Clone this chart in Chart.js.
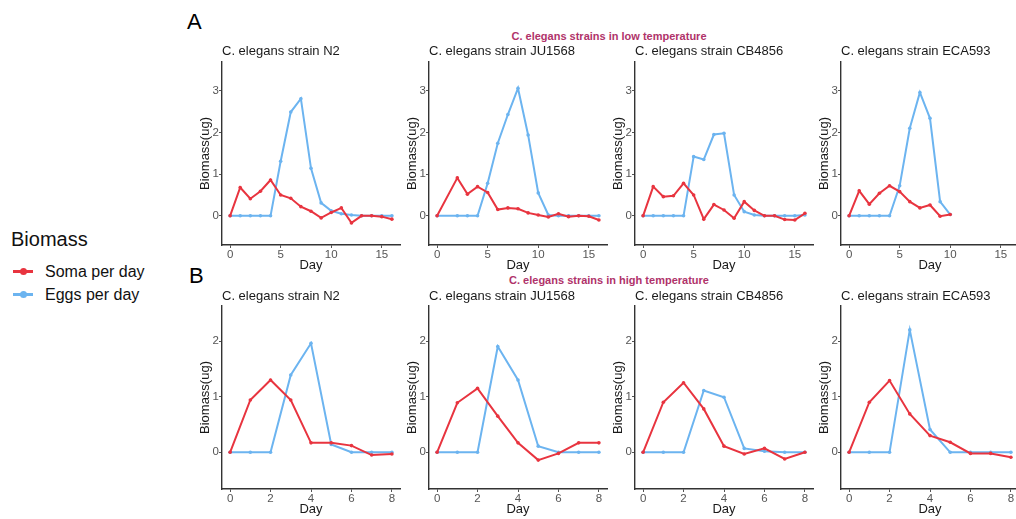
<!DOCTYPE html>
<html lang="en">
<head>
  <meta charset="UTF-8">
  <script src="https://cdn.jsdelivr.net/npm/chart.js"></script>
  <title>C. elegans biomass</title>
  <style>
    body { margin: 0; width: 1016px; height: 519px; background: #fff; overflow: hidden; position: relative;
           font-family: 'Liberation Sans', Arial, sans-serif; }
    canvas { position: absolute; }
    .txt { position: absolute; white-space: nowrap; line-height: 1; }
    .tag { font-size: 22px; color: #000; }
    .group { font-size: 11px; font-weight: bold; color: #b0336a; transform: translateX(-50%); }
    .key { position: absolute; left: 13px; width: 20px; height: 3px; }
    .key span { position: absolute; left: 7px; top: -2px; width: 7px; height: 7px; border-radius: 50%; }
  </style>
</head>
<body>
  <div class="txt tag" style="left:187px; top:11px;">A</div>
  <div class="txt tag" style="left:189px; top:265px;">B</div>
  <div class="txt group" style="left:609px; top:31px;">C. elegans strains in low temperature</div>
  <div class="txt group" style="left:609px; top:275px;">C. elegans strains in high temperature</div>

  <div class="txt" style="left:11px; top:229px; font-size:20px; color:#111;">Biomass</div>
  <div class="key" style="top:270px; background:#e8343f;"><span style="background:#e8343f;"></span></div>
  <div class="txt" style="left:45px; top:264px; font-size:16px; color:#111;">Soma per day</div>
  <div class="key" style="top:293px; background:#6cb4f0;"><span style="background:#6cb4f0;"></span></div>
  <div class="txt" style="left:45px; top:287px; font-size:16px; color:#111;">Eggs per day</div>

  <script>
  // days
  var lowDays = [0, 1, 2, 3, 4, 5, 6, 7, 8, 9, 10, 11, 12, 13, 14, 15, 16];
  var highDays = [0, 1, 2, 3, 4, 5, 6, 7, 8];
  var lowTicks = [0, 5, 10, 15];
  var highTicks = [0, 2, 4, 6, 8];
  var lowYTicks = [0, 1, 2, 3];
  var highYTicks = [0, 1, 2];

  // low temperature (biomass, ug)
  var n2LowSoma = [0, 0.68, 0.41, 0.59, 0.86, 0.50, 0.42, 0.22, 0.11, -0.05, 0.08, 0.19, -0.17, 0, 0, -0.02, -0.08];
  var n2LowEggs = [0, 0, 0, 0, 0, 1.31, 2.49, 2.81, 1.14, 0.31, 0.12, 0.05, 0.02, 0, 0, 0, 0];
  var ju1568LowSoma = [0, null, 0.91, 0.52, 0.70, 0.56, 0.15, 0.19, 0.17, 0.07, 0.02, -0.03, 0.05, -0.02, 0, -0.01, -0.10];
  var ju1568LowEggs = [0, null, 0, 0, 0, 0.78, 1.74, 2.43, 3.06, 1.94, 0.55, 0.02, 0, 0, 0, 0, 0];
  var cb4856LowSoma = [0, 0.70, 0.46, 0.48, 0.78, 0.50, -0.08, 0.27, 0.14, -0.06, 0.34, 0.13, 0, 0, -0.09, -0.10, 0.06];
  var cb4856LowEggs = [0, 0, 0, 0, 0, 1.42, 1.35, 1.95, 1.98, 0.50, 0.10, 0.02, 0, 0, 0, 0, 0.02];
  var eca593LowSoma = [0, 0.60, 0.28, 0.54, 0.72, 0.58, 0.34, 0.19, 0.26, -0.01, 0.03];
  var eca593LowEggs = [0, 0, 0, 0, 0, 0.72, 2.10, 2.96, 2.34, 0.34, 0.03];

  // high temperature
  var n2HighSoma = [0, 0.94, 1.30, 0.94, 0.17, 0.17, 0.12, -0.05, -0.03];
  var n2HighEggs = [0, 0, 0, 1.39, 1.96, 0.14, 0, 0, 0];
  var ju1568HighSoma = [0, 0.89, 1.15, 0.65, 0.17, -0.14, -0.02, 0.17, 0.17];
  var ju1568HighEggs = [0, 0, 0, 1.90, 1.30, 0.11, 0, 0, 0];
  var cb4856HighSoma = [0, 0.90, 1.25, 0.78, 0.11, -0.03, 0.07, -0.12, 0];
  var cb4856HighEggs = [0, 0, 0, 1.11, 0.99, 0.07, 0.02, 0, 0];
  var eca593HighSoma = [0, 0.90, 1.29, 0.69, 0.30, 0.18, -0.02, -0.02, -0.09];
  var eca593HighEggs = [0, 0, 0, 2.20, 0.41, 0, 0, 0, 0];

  var strains = ['N2', 'JU1568', 'CB4856', 'ECA593'];
  var somaColor = '#e8343f';
  var eggsColor = '#6cb4f0';

  Chart.defaults.font.family = "'Liberation Sans', Arial, sans-serif";

  var rows = [
    { days: lowDays, xTicks: lowTicks, yTicks: lowYTicks, xMin: -0.8, xMax: 16.8, yMin: -0.7, yMax: 3.69,
      top: 44, plotTop: 62, plotBottom: 245,
      soma: [n2LowSoma, ju1568LowSoma, cb4856LowSoma, eca593LowSoma],
      eggs: [n2LowEggs, ju1568LowEggs, cb4856LowEggs, eca593LowEggs] },
    { days: highDays, xTicks: highTicks, yTicks: highYTicks, xMin: -0.4, xMax: 8.4, yMin: -0.66, yMax: 2.63,
      top: 289, plotTop: 306, plotBottom: 489,
      soma: [n2HighSoma, ju1568HighSoma, cb4856HighSoma, eca593HighSoma],
      eggs: [n2HighEggs, ju1568HighEggs, cb4856HighEggs, eca593HighEggs] }
  ];
  var axisX = [222, 429, 635, 841];
  var yAxisW = 24, xAxisH = 28, plotW = 178, padR = 4;

  function toPoints(days, values) {
    return values.map(function (v, i) { return { x: days[i], y: v }; });
  }

  rows.forEach(function (row) {
    strains.forEach(function (strain, i) {
      var canvas = document.createElement('canvas');
      canvas.width = yAxisW + plotW + padR;
      canvas.height = row.plotBottom + xAxisH - row.top;
      canvas.style.left = (axisX[i] - yAxisW) + 'px';
      canvas.style.top = row.top + 'px';
      document.body.appendChild(canvas);

      var lineSet = function (label, values, color) {
        return {
          label: label,
          data: toPoints(row.days, values),
          borderColor: color,
          backgroundColor: color,
          borderWidth: 2,
          pointRadius: 1.8,
          pointBorderWidth: 0,
          spanGaps: true,
          tension: 0
        };
      };

      var axisStyle = {
        grid: { display: true, drawOnChartArea: false, drawTicks: true, tickLength: 3, color: '#555', lineWidth: 1 },
        border: { display: true, color: '#333', width: 1.4 }
      };

      new Chart(canvas.getContext('2d'), {
        type: 'line',
        data: {
          datasets: [
            lineSet('Soma per day', row.soma[i], somaColor),
            lineSet('Eggs per day', row.eggs[i], eggsColor)
          ]
        },
        options: {
          responsive: false,
          animation: false,
          layout: { padding: { left: 0, right: padR, top: 0, bottom: 0 } },
          plugins: {
            legend: { display: false },
            tooltip: { enabled: false },
            title: {
              display: true,
              text: 'C. elegans strain ' + strain,
              align: 'start',
              fullSize: false,
              color: '#1a1a1a',
              font: { size: 13, weight: 'normal' },
              padding: { top: 0, bottom: row.plotTop - row.top - 15.6 }
            }
          },
          scales: {
            x: Object.assign({
              type: 'linear',
              min: row.xMin,
              max: row.xMax,
              afterBuildTicks: function (s) { s.ticks = row.xTicks.map(function (v) { return { value: v }; }); },
              afterFit: function (s) { s.height = xAxisH; },
              ticks: { color: '#555', font: { size: 11.5 }, padding: 0, maxRotation: 0 },
              title: { display: true, text: 'Day', color: '#1a1a1a', font: { size: 13 }, padding: 0 }
            }, axisStyle),
            y: Object.assign({
              min: row.yMin,
              max: row.yMax,
              afterBuildTicks: function (s) { s.ticks = row.yTicks.map(function (v) { return { value: v }; }); },
              afterFit: function (s) { s.width = yAxisW; },
              ticks: { color: '#555', font: { size: 11.5 }, padding: 0 },
              title: { display: true, text: 'Biomass(ug)', color: '#1a1a1a', font: { size: 13 }, padding: 0 }
            }, axisStyle)
          }
        }
      });
    });
  });
  </script>
</body>
</html>
